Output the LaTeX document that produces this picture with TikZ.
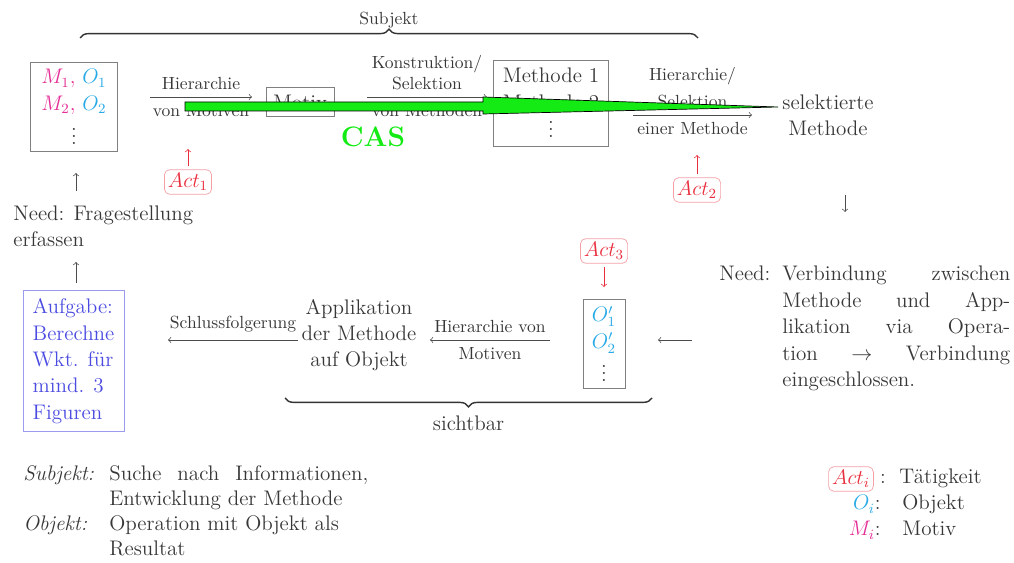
\documentclass[12pt,tikz,border=0pt]{standalone}
\usepackage{fontspec}
\usetikzlibrary{decorations.pathreplacing}

\definecolor{motivc}{RGB}{228,45,150}
\definecolor{objc}{RGB}{40,170,230}
\definecolor{actc}{RGB}{232,45,60}
\definecolor{taskc}{RGB}{75,75,225}
\definecolor{casc}{RGB}{20,235,20}
\definecolor{txt}{RGB}{55,55,55}

\tikzset{
  box/.style={draw=black!50,align=center},
  actbox/.style={draw=actc!45,rounded corners=3pt,text=actc,inner sep=2pt},
  lbl/.style={font=\footnotesize},
  conn/.style={->,black!70},
  brace/.style={decorate,decoration={brace,amplitude=5pt},thick,black!80},
}

\begin{document}
\begin{tikzpicture}[x=0.02cm,y=-0.02cm,every node/.style={text=txt,font=\fontsize{12}{15}\selectfont}]
  \useasboundingbox (0,0) rectangle (1014,563);

  % upper row: motives -> methods -> selected method
  \node[box,minimum width=1.74cm,minimum height=1.74cm] (mo) at (74,107)
    {\textcolor{motivc}{$M_1,$} \textcolor{objc}{$O_1$}\\\textcolor{motivc}{$M_2,$} \textcolor{objc}{$O_2$}\\[1pt]$\vdots$};
  \node[box] (motiv) at (300,102) {Motiv};
  \node[box,minimum width=2.3cm,minimum height=1.72cm] (meth) at (551,103) {Methode 1\\Methode 2\\$\vdots$};
  \node[align=center] (sel) at (828,115) {selektierte\\Methode};

  \coordinate (h1a) at (150,97); \coordinate (h1b) at (252,97);
  \draw[conn] (h1a) -- node[lbl,above]{Hierarchie} node[lbl,below]{von Motiven} (h1b);
  \coordinate (k1a) at (367,97); \coordinate (k1b) at (487,97);
  \draw[conn] (k1a) -- node[lbl,above,align=center]{Konstruktion/\\Selektion} node[lbl,below]{von Methoden} (k1b);
  \coordinate (s1a) at (633,115); \coordinate (s1b) at (752,115);
  \draw[conn] (s1a) -- node[lbl,above,align=center]{Hierarchie/\\[3pt]Selektion} node[lbl,below]{einer Methode} (s1b);

  % CAS overlay
  \draw[black,fill=casc] (185,102) -- (483,102) -- (483,97) -- (778,107) -- (483,114) -- (483,111) -- (185,111) -- cycle;
  \node[text=casc,font=\fontsize{16}{19}\selectfont\bfseries] (cas) at (373,137) {CAS};

  \draw[brace] (80,38) coordinate (sb1) -- node[lbl,above=1.5pt] (subjl) {Subjekt} (698,38) coordinate (sb2);

  % activities
  \node[actbox] (act1) at (188,182) {$Act_1$};
  \coordinate (r1) at (188,149);
  \draw[conn,actc,shorten <=2pt] (act1.north) -- (r1);
  \node[actbox] (act2) at (697,190) {$Act_2$};
  \coordinate (r2) at (697,155);
  \draw[conn,actc,shorten <=2pt] (act2.north) -- (r2);

  % left column
  \node[anchor=west,align=left] (needl) at (6,226) {Need: Fragestellung\\erfassen};
  \coordinate (u1) at (76,173);
  \draw[conn,shorten <=4pt] (u1 |- needl.north) -- (u1);
  \node[box,draw=taskc!55,text=taskc,align=left,minimum width=2.02cm,minimum height=2.82cm] (task) at (73.5,361)
    {Aufgabe:\\Berechne\\Wkt. für\\mind. 3\\Figuren};
  \coordinate (u2) at (76,262);
  \draw[conn,shorten <=4pt] (u2 |- task.north) -- (u2);

  % right column
  \coordinate (d1a) at (845,195); \coordinate (d1b) at (845,212);
  \draw[conn] (d1a) -- (d1b);
  \node[anchor=base west] (needr) at (712,281) {Need:};
  \node[anchor=base west,inner sep=0pt] (needtxt) at (782,281) {\parbox[t]{4.56cm}{%
    Verbindung\hfill zwischen\\
    Methode\hfill und\hfill App-\\
    likation\hfill via\hfill Opera-\\
    tion\hfill $\rightarrow$\hfill Verbindung\\
    eingeschlossen.}};

  % lower row: objects -> application -> task
  \node[box,minimum width=0.84cm,minimum height=1.76cm] (objb) at (604,344)
    {\textcolor{objc}{$O'_1$}\\\textcolor{objc}{$O'_2$}\\$\vdots$};
  \node[actbox] (act3) at (604,251) {$Act_3$};
  \coordinate (r3) at (604,287);
  \draw[conn,actc,shorten <=2pt] (act3.south) -- (r3);
  \coordinate (l1a) at (692,340); \coordinate (l1b) at (658,340);
  \draw[conn] (l1a) -- (l1b);
  \coordinate (m2a) at (550,340); \coordinate (m2b) at (430,340);
  \draw[conn] (m2a) -- node[lbl,above]{Hierarchie von} node[lbl,below]{Motiven} (m2b);
  \node[align=center] (appl) at (359,335) {Applikation\\der Methode\\auf Objekt};
  \coordinate (c1a) at (298,340); \coordinate (c1b) at (168,340);
  \draw[conn] (c1a) -- node[lbl,above]{Schlussfolgerung} (c1b);

  \draw[brace] (652,398) coordinate (bb1) -- node[below=6pt] (sichtl) {sichtbar} (285,398) coordinate (bb2);

  % description
  \node[anchor=base west] (subj) at (16,480) {\textit{Subjekt:}};
  \node[anchor=base west] (subjt) at (102,480) {\makebox[5.18cm][s]{Suche nach Informationen,}};
  \node[anchor=base west] (subjt2) at (102,505) {Entwicklung der Methode};
  \node[anchor=base west] (objk) at (16,530) {\textit{Objekt:}};
  \node[anchor=base west] (objt) at (102,530) {Operation mit Objekt als};
  \node[anchor=base west] (objt2) at (102,556) {Resultat};

  % legend
  \node[actbox] (acti) at (851,479) {$Act_i$};
  \node[anchor=base] (c1) at (883,484) {:};
  \node[anchor=base west] (v1) at (892,484) {Tätigkeit};
  \node[anchor=base east] (k2) at (888,510) {\textcolor{objc}{$O_i$}:};
  \node[anchor=base west] (v2) at (895,510) {Objekt};
  \node[anchor=base east] (k3) at (888,536) {\textcolor{motivc}{$M_i$}:};
  \node[anchor=base west] (v3) at (895,536) {Motiv};
\end{tikzpicture}
\end{document}
